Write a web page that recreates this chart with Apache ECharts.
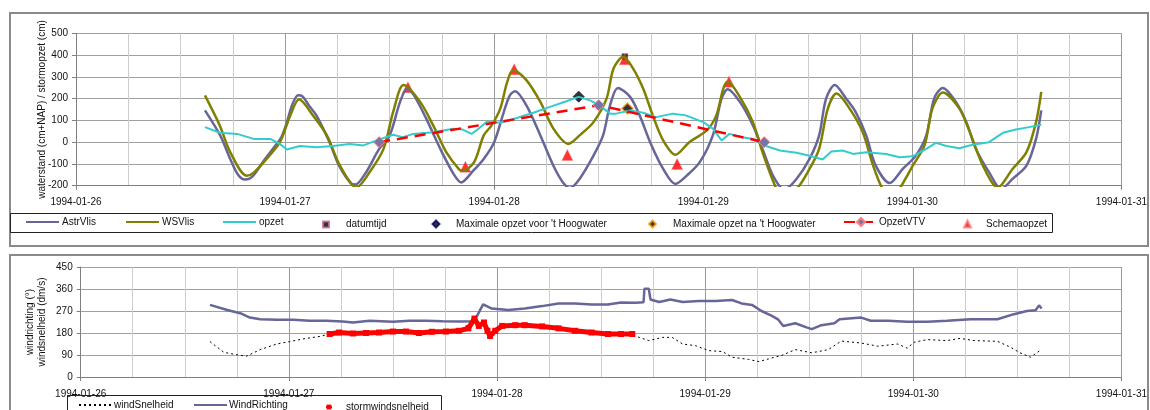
<!DOCTYPE html>
<html>
<head>
<meta charset="utf-8">
<script src="https://cdn.jsdelivr.net/npm/echarts@6/dist/echarts.min.js"></script>
<style>html,body{margin:0;padding:0;background:#fff;}#c{width:1150px;height:410px;}</style>
</head>
<body>
<div id="c"></div>
<script>
// time in hours since 1994-01-26 00:00
const dayLabels = ['1994-01-26','1994-01-27','1994-01-28','1994-01-29','1994-01-30','1994-01-31'];

const astrVlis = [[14.8,146],[16.55,31],[17.7,-77],[18.6,-150],[19.4,-172],[20.2,-160],[21.7,-77],[23.0,-10],[23.6,25],[24.2,90],[24.8,170],[25.5,215],[26.0,210],[26.8,165],[27.6,123],[29.1,0],[30.2,-108],[31.6,-190],[32.1,-194],[33.3,-138],[34.8,-31],[36.0,31],[37.2,185],[38.0,245],[38.8,215],[40.2,108],[42.0,-46],[43.4,-150],[44.2,-185],[45.6,-131],[46.8,-77],[48.0,0],[49.1,138],[49.8,215],[50.4,234],[51.7,169],[53.3,31],[54.8,-108],[55.9,-185],[56.7,-211],[57.8,-169],[59.4,-62],[60.5,31],[61.3,169],[62.2,249],[63.6,208],[64.7,123],[65.9,0],[67.4,-123],[68.8,-192],[70.1,-154],[71.6,-92],[73.1,31],[74.1,200],[74.8,243],[76.2,185],[77.7,77],[78.8,-31],[80.0,-154],[81.3,-218],[82.7,-169],[84.2,-77],[85.3,31],[86.1,200],[87.1,262],[88.4,200],[89.5,138],[90.7,31],[91.8,-108],[93.4,-188],[94.9,-123],[96.4,-62],[97.6,31],[98.5,200],[99.5,249],[101.0,185],[102.2,92],[103.3,-31],[104.8,-138],[106.2,-215],[107.5,-169],[109.1,-108],[110.2,15],[110.8,146]];

const wsVlis = [[14.8,215],[16.5,77],[17.7,-46],[19.6,-154],[20.4,-140],[21.7,-85],[23.4,0],[24.6,123],[25.6,197],[27.2,123],[28.8,31],[30.3,-108],[32.2,-208],[33.7,-138],[35.3,-31],[36.4,138],[37.6,262],[39.5,185],[41.0,77],[42.5,-46],[44.0,-126],[44.4,-131],[45.7,-92],[46.8,31],[47.7,77],[48.7,154],[49.5,277],[50.2,331],[51.7,285],[53.3,185],[54.8,62],[56.5,-8],[57.8,31],[59.4,92],[60.9,200],[61.7,338],[62.8,392],[63.95,338],[65.1,246],[66.2,123],[67.4,8],[68.8,-58],[70.4,0],[72.4,54],[73.5,123],[74.3,246],[74.8,277],[76.2,208],[77.7,92],[78.8,-46],[80.4,-215],[81.1,-246],[82.7,-215],[84.2,-123],[85.3,-31],[86.3,154],[87.3,223],[88.8,154],[90.3,46],[91.5,-108],[92.6,-215],[93.6,-246],[94.5,-215],[96.05,-108],[97.4,-15],[98.3,154],[99.5,228],[101.4,154],[102.6,46],[104.1,-108],[105.8,-208],[107.5,-123],[109.1,-46],[110.2,92],[110.8,231]];

const opzet = [[14.8,69],[16.5,43],[18.5,38],[20.4,15],[22.3,15],[23.4,-8],[24.2,-34],[25.7,-18],[27.6,-23],[29.5,-18],[31.4,-8],[33.0,-15],[34.5,8],[36.4,34],[37.5,23],[38.7,38],[41.0,46],[43.3,62],[44.4,58],[45.4,38],[46.1,58],[47.2,95],[48.7,89],[50.6,111],[52.5,135],[54.4,162],[56.3,188],[57.7,208],[59.0,192],[60.1,169],[61.3,131],[62.0,131],[63.6,146],[65.1,135],[66.6,115],[68.5,131],[70.0,123],[72.0,92],[73.1,62],[74.1,8],[75.0,38],[76.5,23],[77.7,15],[79.2,-18],[80.8,-38],[82.7,-49],[84.2,-62],[85.7,-80],[86.7,-43],[88.0,-38],[89.2,-54],[90.7,-46],[93.0,-54],[94.5,-69],[96.05,-65],[97.6,-31],[98.7,-3],[99.9,-18],[101.4,-28],[102.9,-12],[104.8,0],[106.4,43],[107.9,58],[109.4,69],[110.8,80]];

const datumtijd = [[63.0,393]];
const maxVoor = [[57.7,209]];
const maxNa = [[63.3,155]];
const opzetVTV = [[34.8,0],[60.0,170],[79.0,0]];
const schemaopzet = [[38.1,252],[44.7,-113],[50.3,335],[56.4,-59],[63.0,381],[69.0,-100],[74.95,278]];

const windSnelheid = [[14.9,145],[16.5,101],[18.0,91],[19.1,85],[20.7,112],[22.6,135],[24.1,145],[26.0,158],[27.6,166],[28.7,176],[31.4,178],[34.4,182],[37.5,186],[40.5,185],[43.6,189],[45.4,230],[46.5,215],[47.2,155],[48.6,205],[51.2,212],[55.1,199],[58.9,182],[62.3,176],[63.6,172],[64.4,162],[65.5,149],[67.1,162],[68.2,162],[69.4,135],[70.9,128],[72.4,108],[74.0,104],[75.1,81],[77.0,72],[78.2,63],[79.3,74],[80.8,88],[82.4,112],[84.3,99],[86.2,112],[87.7,147],[90.0,139],[91.9,126],[94.2,135],[95.3,118],[96.1,142],[97.6,153],[99.9,149],[101.4,158],[103.0,149],[105.7,146],[107.2,122],[108.3,99],[109.5,81],[110.6,108]];

const windRichting = [[14.9,295],[16.9,274],[18.4,261],[19.5,243],[20.7,236],[22.6,234],[24.5,234],[26.4,230],[28.3,230],[30.2,227],[31.4,223],[33.3,230],[36.0,226],[37.9,230],[39.8,230],[41.7,228],[43.6,227],[45.1,228],[45.7,250],[46.4,297],[47.4,280],[49.3,274],[51.2,280],[53.2,290],[55.1,301],[57.0,301],[58.9,297],[60.8,297],[62.3,305],[64.0,304],[64.9,306],[65.0,361],[65.5,361],[65.7,317],[66.7,307],[68.0,317],[69.4,307],[71.3,311],[73.2,311],[75.1,315],[76.2,301],[77.4,295],[78.5,270],[79.7,250],[80.4,236],[81.0,209],[82.4,220],[83.7,203],[84.3,196],[85.4,212],[86.9,220],[87.5,236],[90.0,243],[91.1,230],[93.1,230],[95.3,226],[97.6,226],[99.9,230],[102.6,236],[105.7,236],[107.6,257],[109.1,270],[110.1,273],[110.5,293],[110.8,280]];

const stormwindsnelheid = [[28.7,176],[29.8,182],[31.4,178],[32.9,180],[34.4,182],[36.0,186],[37.5,186],[39.0,180],[40.5,185],[42.1,186],[43.6,189],[44.7,199],[45.4,239],[45.9,209],[46.5,223],[46.9,189],[47.2,168],[47.8,189],[48.6,209],[50.1,212],[51.2,212],[53.2,207],[55.1,199],[57.0,189],[58.9,182],[60.8,176],[62.3,176],[63.6,176]];

const FONT = 'Liberation Sans';
const PURPLE = '#666699', OLIVE = '#808000', TURQ = '#33CCCC', RED = '#FF0000';

function xAx(gi){
  return {
    type:'value', gridIndex:gi, min:0, max:120, interval:24,
    axisLine:{show:true, onZero:false, lineStyle:{color:'#808080', width:1}},
    axisTick:{show:true, length:4, lineStyle:{color:'#808080'}},
    axisLabel:{margin:12, fontFamily:FONT, fontSize:10, color:'#111', formatter:v=>dayLabels[Math.round(v/24)]},
    splitLine:{show:true, lineStyle:{color:'#9a9a9a', width:1}},
    minorTick:{show:false, splitNumber:4},
    minorSplitLine:{show:true, lineStyle:{color:'#cdcdcd', width:1}}
  };
}
function yAx(gi,min,max,interval,name,gap){
  return {
    type:'value', gridIndex:gi, min, max, interval,
    name, nameLocation:'middle', nameGap:gap, nameRotate:90, nameMoveOverlap:false,
    nameTextStyle:{fontFamily:FONT, fontSize:10, color:'#111', lineHeight:12},
    axisLine:{show:true, lineStyle:{color:'#808080'}},
    axisTick:{show:true, length:4, lineStyle:{color:'#808080'}},
    axisLabel:{margin:8, fontFamily:FONT, fontSize:10, color:'#111'},
    splitLine:{show:true, lineStyle:{color:'#a0a0a0', width:1}}
  };
}
function lg(name, left, top, w, h, pad, lineOnly){
  const o = {show:true, data:[name], left, top, itemWidth:w, itemHeight:h, selectedMode:false, padding:0,
    textStyle:{fontFamily:FONT, fontSize:10, color:'#111', padding:[0,0,0,pad||0]}};
  if (lineOnly) o.itemStyle = {opacity:0};
  return o;
}

const chart = echarts.init(document.getElementById('c'));
chart.setOption({
  animation:false,
  backgroundColor:'#fff',
  grid:[
    {left:76, right:27, top:33.3, height:152.4},
    {left:80.7, right:21, top:267, height:110}
  ],
  xAxis:[xAx(0), xAx(1)],
  yAxis:[
    yAx(0,-200,500,100,'waterstand (cm+NAP) / stormopzet (cm)',28),
    yAx(1,0,450,90,'windrichting (°)\nwindsnelheid (dm/s)',32)
  ],
  legend:[
    lg('AstrVlis',25,217,33,10,-2,true),
    lg('WSVlis',125,217,33,10,-2,true),
    lg('opzet',222,217,33,10,-2,true),
    lg('datumtijd',322,219.5,6,6,12),
    lg("Maximale opzet voor 't Hoogwater",431.5,219,7,7,11.5),
    lg("Maximale opzet na 't Hoogwater",648,219,7,7,12),
    lg('OpzetVTV',843,217,34,10,-4),
    lg('Schemaopzet',963,219,7,7,10),
    lg('windSnelheid',78,400,32,10,-2,true),
    lg('WindRichting',193,400,33,10,-3,true),
    lg('stormwindsnelheid',325,402,6,6,9)
  ],
  graphic:[
    {type:'rect', silent:true, z:100, shape:{x:10,y:13,width:1138,height:233}, style:{fill:'none', stroke:'#8a8a8a', lineWidth:2}},
    {type:'rect', silent:true, z:100, shape:{x:10,y:255,width:1138,height:170}, style:{fill:'none', stroke:'#8a8a8a', lineWidth:2}},
    {type:'rect', silent:true, z:100, shape:{x:10.5,y:213.5,width:1042,height:19}, style:{fill:'none', stroke:'#222', lineWidth:1}},
    {type:'rect', silent:true, z:100, shape:{x:67.5,y:395.5,width:374,height:30}, style:{fill:'none', stroke:'#222', lineWidth:1}}
  ],
  series:[
    {name:'AstrVlis', type:'line', xAxisIndex:0, yAxisIndex:0, data:astrVlis, symbol:'none', smooth:0.3, color:PURPLE, lineStyle:{color:PURPLE, width:2.5}},
    {name:'WSVlis', type:'line', xAxisIndex:0, yAxisIndex:0, data:wsVlis, symbol:'none', smooth:0.3, color:OLIVE, lineStyle:{color:OLIVE, width:2.5}},
    {name:'opzet', type:'line', xAxisIndex:0, yAxisIndex:0, data:opzet, symbol:'none', color:TURQ, lineStyle:{color:TURQ, width:2}},
    {name:'OpzetVTV', type:'line', xAxisIndex:0, yAxisIndex:0, data:opzetVTV, symbol:'diamond', symbolSize:11,
      lineStyle:{color:RED, width:2.5, type:[11,7]}, itemStyle:{color:'#7575A8', borderColor:'#FF7F7F', borderWidth:1}},
    {name:'Schemaopzet', type:'scatter', xAxisIndex:0, yAxisIndex:0, data:schemaopzet, symbol:'triangle', symbolSize:11,
      itemStyle:{color:RED, borderColor:'#FF8080', borderWidth:0.5}},
    {name:'datumtijd', type:'scatter', xAxisIndex:0, yAxisIndex:0, data:datumtijd, symbol:'rect', symbolSize:6, z:1,
      itemStyle:{color:'#000', borderColor:'#CC6699', borderWidth:0.5}},
    {name:"Maximale opzet voor 't Hoogwater", type:'scatter', xAxisIndex:0, yAxisIndex:0, data:maxVoor, symbol:'diamond', symbolSize:11,
      itemStyle:{color:'#000', borderColor:'#000066', borderWidth:1}},
    {name:"Maximale opzet na 't Hoogwater", type:'scatter', xAxisIndex:0, yAxisIndex:0, data:maxNa, symbol:'diamond', symbolSize:11,
      itemStyle:{color:'#000', borderColor:'#FF9900', borderWidth:1.5}},

    {name:'windSnelheid', type:'line', xAxisIndex:1, yAxisIndex:1, data:windSnelheid, symbol:'none', color:'#000',
      lineStyle:{color:'#000', width:1, type:[2,3]}},
    {name:'WindRichting', type:'line', xAxisIndex:1, yAxisIndex:1, data:windRichting, symbol:'none', color:PURPLE,
      lineStyle:{color:PURPLE, width:2.5}},
    {name:'stormwindsnelheid', type:'line', xAxisIndex:1, yAxisIndex:1, data:stormwindsnelheid, symbol:'rect', symbolSize:6,
      color:RED, lineStyle:{color:RED, width:5}, itemStyle:{color:RED}}
  ]
});
</script>
</body>
</html>
